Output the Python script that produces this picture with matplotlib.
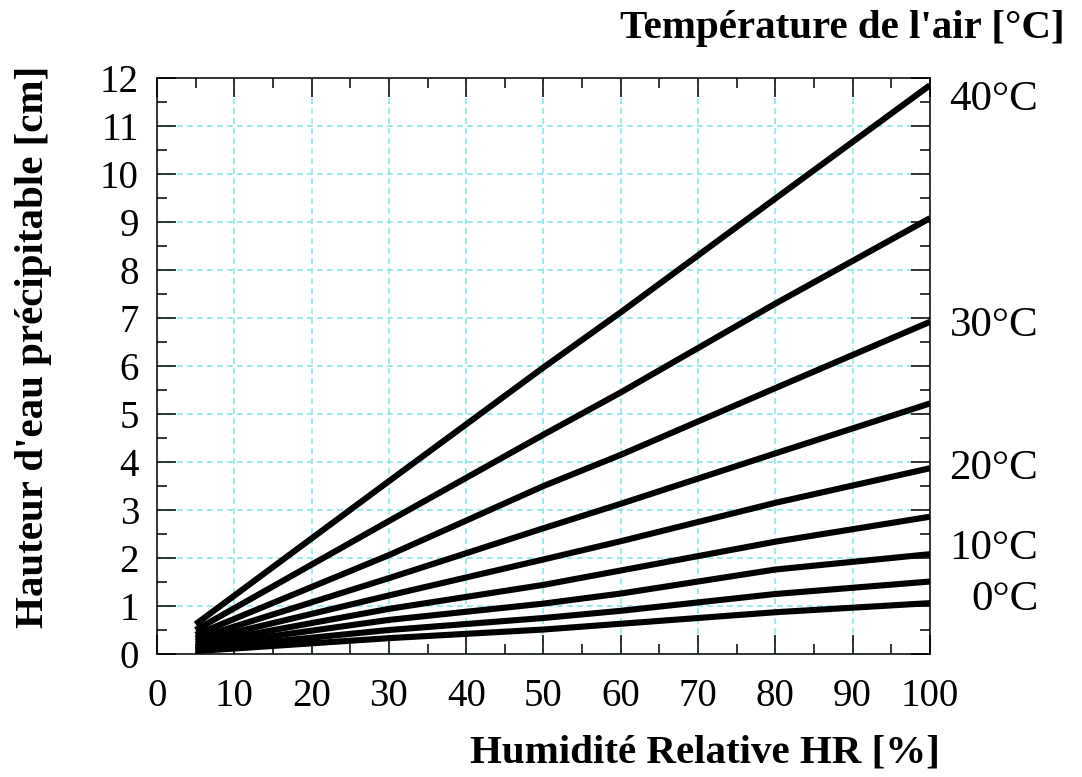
import matplotlib
matplotlib.use("Agg")
import matplotlib.pyplot as plt
from matplotlib.ticker import MultipleLocator

# relative humidity [%] where the curves were read
hr = [5, 30, 50, 60, 80, 100]

# precipitable water [cm] per air temperature
temps = [40, 35, 30, 25, 20, 15, 10, 5, 0]
water = {
    40: [0.62, 3.60, 5.97, 7.12, 9.49, 11.85],
    35: [0.50, 2.77, 4.57, 5.45, 7.30, 9.08],
    30: [0.40, 2.06, 3.50, 4.15, 5.54, 6.92],
    25: [0.32, 1.58, 2.62, 3.13, 4.18, 5.22],
    20: [0.26, 1.22, 1.97, 2.35, 3.15, 3.87],
    15: [0.20, 0.94, 1.44, 1.74, 2.34, 2.86],
    10: [0.15, 0.71, 1.05, 1.26, 1.76, 2.08],
    5: [0.10, 0.50, 0.75, 0.90, 1.25, 1.51],
    0: [0.06, 0.33, 0.51, 0.63, 0.87, 1.06],
}

curve_labels = ["40°C", "30°C", "20°C", "10°C", "0°C"]
label_y = [11.55, 6.83, 3.85, 2.2, 1.12]

plt.rcParams["font.family"] = ["Liberation Serif", "DejaVu Serif"]

fig = plt.figure(figsize=(10.82, 7.77), dpi=100)
ax = fig.add_axes([0.1451, 0.1583, 0.7144, 0.7413])

for t in temps:
    ax.plot(hr, water[t], color="black", lw=4.4, solid_capstyle="butt",
            solid_joinstyle="round", zorder=3)

ax.set_xlim(0, 100)
ax.set_ylim(0, 12)
ax.xaxis.set_major_locator(MultipleLocator(10))
ax.xaxis.set_minor_locator(MultipleLocator(5))
ax.yaxis.set_major_locator(MultipleLocator(1))
ax.yaxis.set_minor_locator(MultipleLocator(0.5))

ax.grid(True, which="major", color="#8ce6ea", lw=1.2, ls=(0, (3.5, 2.5)), zorder=1)
ax.tick_params(which="both", direction="in", top=True, right=True,
               width=1.1, labelsize=28)
ax.tick_params(which="major", length=13.5)
ax.tick_params(which="minor", length=7)
ax.tick_params(axis="x", pad=17)
ax.tick_params(axis="y", pad=13)
for s in ax.spines.values():
    s.set_linewidth(1.1)

for lab, y in zip(curve_labels, label_y):
    ax.text(114, y, lab, ha="right", va="center", fontsize=31, clip_on=False)

fig.text(1065 / 1082, 1 - 38 / 777, "Température de l'air [°C]",
         ha="right", va="baseline", fontsize=29.5, fontweight="bold")
fig.text(705 / 1082, 1 - 763 / 777, "Humidité Relative HR [%]",
         ha="center", va="baseline", fontsize=29.5, fontweight="bold")
fig.text(34 / 1082, 1 - 347 / 777, "Hauteur d'eau précipitable [cm]",
         ha="center", va="center", rotation=90, fontsize=29.5, fontweight="bold")

fig.savefig("out.png", dpi=100)
